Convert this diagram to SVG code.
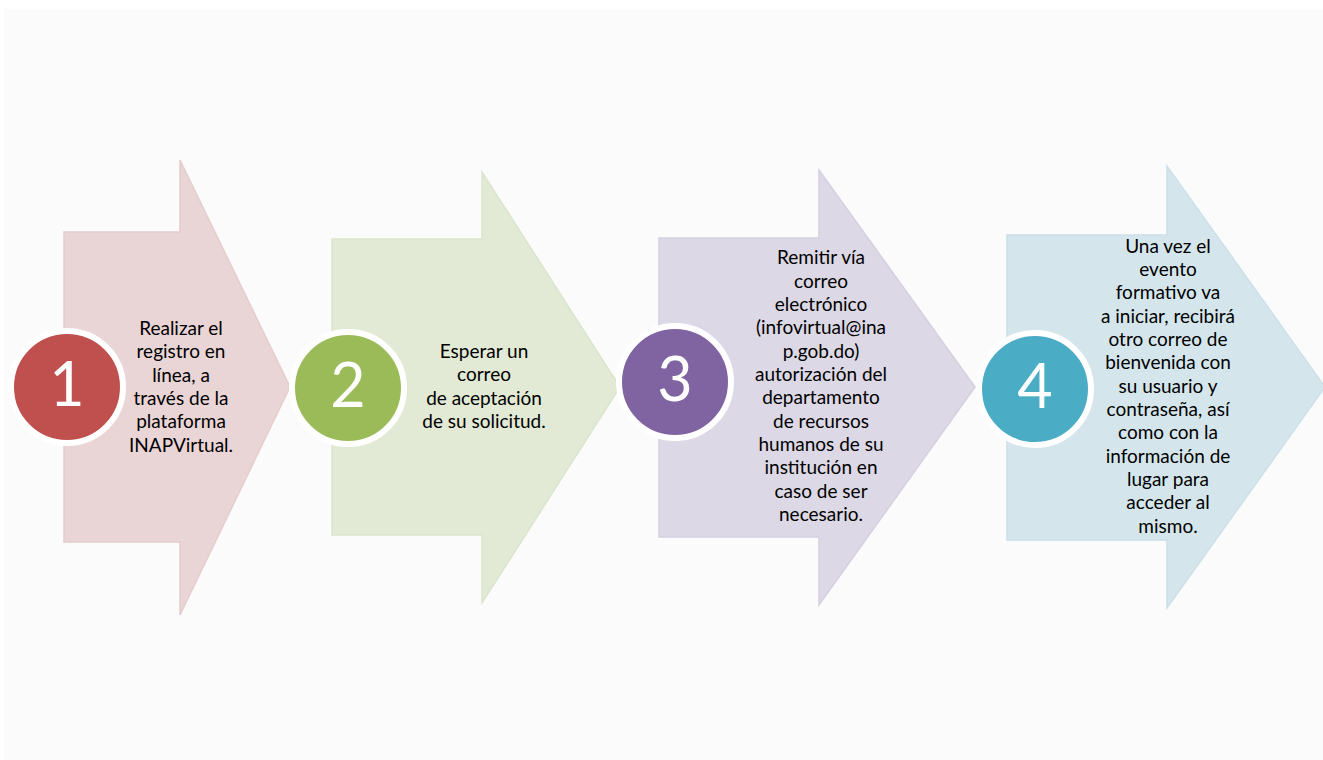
<svg xmlns="http://www.w3.org/2000/svg" width="1323" height="760" viewBox="0 0 1323 760">
<style>
.bg{fill:#fbfbfb}
.arr{stroke-width:1.5;stroke-linejoin:miter}
.a1{fill:#ead5d6;stroke:#e5cccd}
.a2{fill:#e2e9d5;stroke:#dbe5cc}
.a3{fill:#dcd8e5;stroke:#d5d0e0}
.a4{fill:#d4e6ec;stroke:#cbe0e8}
.circ{stroke:#ffffff;stroke-width:6}
.num{font-family:Lato,"Liberation Sans",sans-serif;font-size:61px;fill:#ffffff;text-anchor:middle}
.txt{font-family:Lato,"Liberation Sans",sans-serif;font-size:19px;fill:#000000;text-anchor:middle}
</style>
<rect x="0" y="0" width="1323" height="760" fill="#ffffff"/>
<rect class="bg" x="4" y="9" width="1319" height="751"/>
<g id="step1">
<polygon class="arr a1" points="64,232 180,232 180,160 290,387 180,615 180,542 64,542"/>
<circle class="circ" cx="67" cy="387" r="56" fill="#c0504d"/>
<text class="num" x="67" y="406">1</text>
<text class="txt" x="181"><tspan x="181" y="335">Realizar el</tspan><tspan x="181" y="358">registro en</tspan><tspan x="181" y="382">línea, a</tspan><tspan x="181" y="405">través de la</tspan><tspan x="181" y="428">plataforma</tspan><tspan x="181" y="452">INAPVirtual.</tspan></text>
</g>
<g id="step2">
<polygon class="arr a2" points="332,239 482,239 482,172 620,387 482,603 482,535 332,535"/>
<circle class="circ" cx="348" cy="388" r="56" fill="#9bbb59"/>
<text class="num" x="348" y="407">2</text>
<text class="txt" x="484"><tspan x="484" y="358">Esperar un</tspan><tspan x="484" y="381">correo</tspan><tspan x="484" y="405">de aceptación</tspan><tspan x="484" y="428">de su solicitud.</tspan></text>
</g>
<g id="step3">
<polygon class="arr a3" points="659,238 819,238 819,170 975,387 819,605 819,537 659,537"/>
<circle class="circ" cx="675" cy="382" r="56" fill="#8064a2"/>
<text class="num" x="675" y="401">3</text>
<text class="txt" x="821"><tspan x="821" y="264">Remitir vía</tspan><tspan x="821" y="288">correo</tspan><tspan x="821" y="311">electrónico</tspan><tspan x="821" y="334">(infovirtual@ina</tspan><tspan x="821" y="358">p.gob.do)</tspan><tspan x="821" y="381">autorización del</tspan><tspan x="821" y="404">departamento</tspan><tspan x="821" y="428">de recursos</tspan><tspan x="821" y="451">humanos de su</tspan><tspan x="821" y="474">institución en</tspan><tspan x="821" y="498">caso de ser</tspan><tspan x="821" y="521">necesario.</tspan></text>
</g>
<g id="step4">
<polygon class="arr a4" points="1007,235 1167,235 1167,166 1325,387 1167,608 1167,540 1007,540"/>
<circle class="circ" cx="1035" cy="389" r="56" fill="#4bacc6"/>
<text class="num" x="1035" y="408">4</text>
<text class="txt" x="1168"><tspan x="1168" y="253">Una vez el</tspan><tspan x="1168" y="276">evento</tspan><tspan x="1168" y="299">formativo va</tspan><tspan x="1168" y="323">a iniciar, recibirá</tspan><tspan x="1168" y="346">otro correo de</tspan><tspan x="1168" y="369">bienvenida con</tspan><tspan x="1168" y="393">su usuario y</tspan><tspan x="1168" y="416">contraseña, así</tspan><tspan x="1168" y="439">como con la</tspan><tspan x="1168" y="463">información de</tspan><tspan x="1168" y="486">lugar para</tspan><tspan x="1168" y="509">acceder al</tspan><tspan x="1168" y="533">mismo.</tspan></text>
</g>
<g id="connectors"></g>
</svg>
